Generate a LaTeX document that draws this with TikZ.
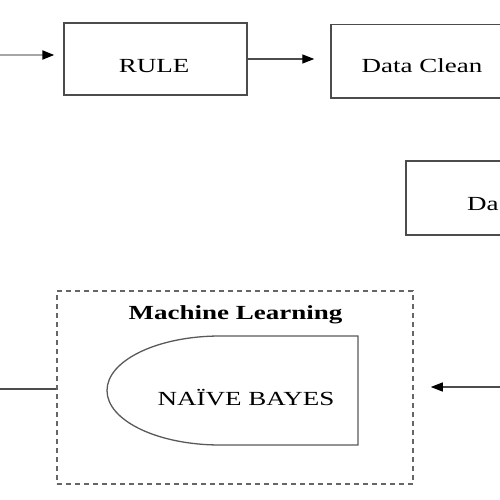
\documentclass[tikz,border=0pt]{standalone}
\usepackage{fontspec}
\setmainfont{Liberation Serif}
\usetikzlibrary{arrows.meta}
\begin{document}
\begin{tikzpicture}[x=1pt,y=-1pt,
  boxst/.style={draw=black!70, line width=1.4pt, rectangle, inner sep=0pt},
  lbl/.style={inner sep=0pt, anchor=base, font=\fontsize{20}{24}\selectfont},
  conn/.style={draw=black!70, line width=1.3pt},
  arr/.style={conn, -{Triangle[length=12pt,width=9pt,color=black]}},
  dashbox/.style={draw=black!60, line width=1.5pt, dash pattern=on 5pt off 4pt, rectangle, inner sep=0pt}
]
\useasboundingbox (0,0) rectangle (500,500);
\clip (0,0) rectangle (500,500);
% boxes
\node[boxst, minimum width=183pt, minimum height=72pt] (rule) at (155.5,59) {};
\node[boxst, minimum width=182pt, minimum height=73.5pt] (dc) at (422,61.2) {};
\node[boxst, minimum width=182pt, minimum height=74pt] (da) at (497,198) {};
\node[dashbox, minimum width=356pt, minimum height=193pt] (ml) at (235,387.5) {};
% labels
\node[lbl] (ruletxt) at (154,73) {\scalebox{1.35}[1]{RULE}};
\node[lbl] (dctxt) at (422,73) {\scalebox{1.35}[1]{Data Clean}};
\node[lbl, anchor=base west] (datxt) at (467,210) {\scalebox{1.35}[1]{Da}};
\node[lbl] (mltxt) at (235.5,319) {\scalebox{1.35}[1]{\bfseries Machine Learning}};
% naive bayes shape
\draw[draw=black!65, line width=1.3pt] (358,336) -- (220,336)
  arc[start angle=270, end angle=90, x radius=113, y radius=54.5] -- (358,445) -- cycle;
\node[lbl] (nb) at (246,405) {\scalebox{1.35}[1]{NAÏVE BAYES}};
% connectors
\coordinate (inL) at (0,55);
\coordinate (outL) at (0,389);
\coordinate (inR) at (500,387);
\draw[arr, draw=black!35, line width=2pt, shorten >=9pt] (inL) -- (inL -| rule.west);
\draw[arr, shorten >=16pt] (rule.east) -- (rule.east -| dc.west);
\draw[conn] (ml.west |- outL) -- (outL);
\draw[arr, shorten >=17pt] (inR) -- (inR -| ml.east);
\end{tikzpicture}
\end{document}
